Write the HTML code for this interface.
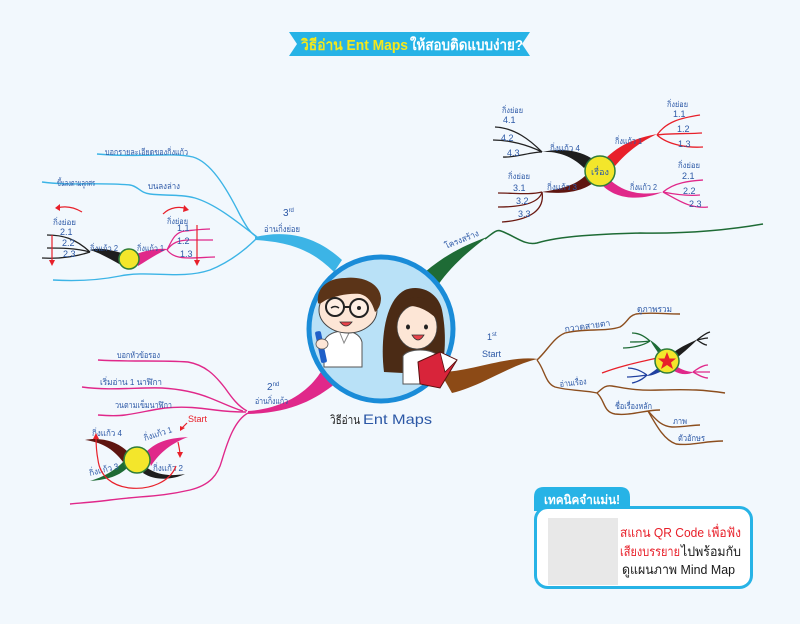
<!DOCTYPE html>
<html><head><meta charset="utf-8">
<style>
html,body{margin:0;padding:0;background:#f2f8fd;}
svg{display:block;}
text{font-family:"Liberation Sans","DejaVu Sans",sans-serif;}
</style></head>
<body>
<svg width="800" height="624" viewBox="0 0 800 624" xmlns="http://www.w3.org/2000/svg">
<rect width="800" height="624" fill="#f2f8fd"/>

<!-- Title banner -->
<polygon points="289,32 530,32 522,44 530,56 289,56 297,44" fill="#27b3e6"/>
<text x="301" y="50" font-size="15" font-weight="bold" fill="#f6e81a" textLength="107" lengthAdjust="spacingAndGlyphs">วิธีอ่าน Ent Maps</text>
<text x="410" y="50" font-size="15" font-weight="bold" fill="#ffffff" textLength="113" lengthAdjust="spacingAndGlyphs">ให้สอบติดแบบง่าย?</text>

<!-- ========== BLUE branch (3rd) ========== -->
<path d="M255,237 C290,229 318,238 342,260 L334,272 C312,250 290,242 255,240 Z" fill="#3cb4e6"/>
<g fill="none" stroke="#3cb4e6" stroke-width="1.4">
<path d="M97,154 C140,158 170,152 193,157 C210,162 225,185 240,215 C246,226 250,233 257,237"/>
<path d="M42,182 C70,186 100,182 130,185 C138,186 140,193 150,194 C165,196 180,194 195,198 C215,204 235,220 257,237"/>
<path d="M257,238 C245,250 230,262 210,270 C180,280 150,270 120,276 C95,281 70,281 53,280"/>
</g>
<g font-size="8.5" fill="#2c58a6" lengthAdjust="spacingAndGlyphs">
<text x="105" y="155" textLength="83" lengthAdjust="spacingAndGlyphs">บอกรายละเอียดของกิ่งแก้ว</text>
<text x="57" y="186" textLength="38" lengthAdjust="spacingAndGlyphs">ขึ้นลงตามลูกศร</text>
<text x="148" y="189" textLength="32" lengthAdjust="spacingAndGlyphs">บนลงล่าง</text>
</g>
<text x="283" y="216" font-size="10" fill="#2c58a6">3<tspan font-size="6" dy="-4">rd</tspan></text>
<text x="264" y="232" font-size="9" fill="#2c58a6" textLength="36" lengthAdjust="spacingAndGlyphs">อ่านกิ่งย่อย</text>

<!-- left mini diagram -->
<g fill="none" stroke-width="1.3">
<path stroke="#222" d="M90,252 C75,238 62,235 47,235"/>
<path stroke="#222" d="M90,252 C75,248 60,248 47,248"/>
<path stroke="#222" d="M90,252 C75,257 60,259 42,258"/>
<path stroke="#e0288a" d="M167,250 C172,240 175,232 185,231 C195,230 203,229 210,229"/>
<path stroke="#e0288a" d="M167,250 C172,243 178,240 190,240 C200,240 206,240 213,240"/>
<path stroke="#e0288a" d="M167,250 C172,256 178,258 190,258 C200,258 208,257 215,257"/>
</g>
<path d="M122,253 C110,250 100,247 90,250 C100,253 110,259 121,265 Z" fill="#1e1e1e"/>
<path d="M136,254 C148,250 158,248 168,249 C158,253 148,260 138,266 Z" fill="#e0288a"/>
<circle cx="129" cy="259" r="10" fill="#f3e62b" stroke="#2f7d3a" stroke-width="1.5"/>
<g font-size="8" fill="#2c58a6">
<text x="53" y="225" textLength="23" lengthAdjust="spacingAndGlyphs">กิ่งย่อย</text>
<text x="60" y="235" font-size="9">2.1</text>
<text x="62" y="246" font-size="9">2.2</text>
<text x="63" y="257" font-size="9">2.3</text>
<text x="90" y="251" textLength="28" lengthAdjust="spacingAndGlyphs">กิ่งแก้ว 2</text>
<text x="137" y="251" textLength="27" lengthAdjust="spacingAndGlyphs">กิ่งแก้ว 1</text>
<text x="167" y="224" textLength="21" lengthAdjust="spacingAndGlyphs">กิ่งย่อย</text>
<text x="177" y="231" font-size="9">1.1</text>
<text x="177" y="244" font-size="9">1.2</text>
<text x="180" y="257" font-size="9">1.3</text>
</g>
<g fill="none" stroke="#e8202a" stroke-width="1.2">
<path d="M82,212 C72,206 64,206 57,208"/>
<path d="M52,235 L52,263"/>
<path d="M163,214 C170,207 180,206 187,209"/>
<path d="M197,225 L197,263"/>
</g>
<g fill="#e8202a">
<polygon points="55,208 60,204 60,211"/>
<polygon points="189,210 184,205 183,212"/>
<polygon points="52,266 49,260 55,260"/>
<polygon points="197,266 194,260 200,260"/>
</g>

<!-- ========== GREEN branch ========== -->
<path d="M425,272 C445,255 465,245 487,237 C470,250 452,265 438,285 Z" fill="#1e6b35"/>
<path d="M485,239 C492,234 496,229 501,231 C515,236 525,246 537,243 C560,236 600,234 640,233 C700,234 740,228 763,224" fill="none" stroke="#1e6b35" stroke-width="1.5"/>
<text x="446" y="249" font-size="8.5" fill="#2c58a6" transform="rotate(-22 446 249)" textLength="36" lengthAdjust="spacingAndGlyphs">โครงสร้าง</text>

<!-- top-right cluster -->
<g fill="none" stroke-width="1.3">
<path stroke="#e8202a" d="M657,135 C666,122 680,118 700,115"/>
<path stroke="#e8202a" d="M657,135 C672,133 688,134 702,133"/>
<path stroke="#e8202a" d="M657,135 C668,145 688,148 703,147"/>
<path stroke="#e0288a" d="M663,192 C675,182 690,181 703,180"/>
<path stroke="#e0288a" d="M663,192 C678,195 690,196 700,195"/>
<path stroke="#e0288a" d="M663,192 C678,200 690,209 708,207"/>
<path stroke="#222" d="M542,152 C530,140 515,128 495,127"/>
<path stroke="#222" d="M542,152 C528,145 510,140 493,140"/>
<path stroke="#222" d="M542,152 C530,152 515,158 503,157"/>
<path stroke="#6b1a12" d="M542,192 C530,195 515,193 498,193"/>
<path stroke="#6b1a12" d="M542,192 C540,200 530,207 498,207"/>
<path stroke="#6b1a12" d="M542,192 C545,210 530,220 502,222"/>
</g>
<path d="M607,157 C620,145 635,138 657,134 C640,142 627,152 615,166 Z" fill="#e8202a"/>
<path d="M608,178 C625,195 645,195 663,192 C645,199 620,202 603,186 Z" fill="#e0288a"/>
<path d="M591,158 C578,150 560,148 542,152 C560,151 574,158 584,168 Z" fill="#1e1e1e"/>
<path d="M593,183 C580,193 560,194 542,192 C560,189 575,186 586,175 Z" fill="#5e1510"/>
<circle cx="600" cy="171" r="15" fill="#f3e62b" stroke="#2f7d3a" stroke-width="1.5"/>
<text x="591" y="175" font-size="9" fill="#2c58a6" textLength="18" lengthAdjust="spacingAndGlyphs">เรื่อง</text>
<g font-size="9" fill="#2c58a6">
<text x="667" y="107" font-size="8" textLength="21" lengthAdjust="spacingAndGlyphs">กิ่งย่อย</text>
<text x="673" y="117">1.1</text>
<text x="677" y="132">1.2</text>
<text x="678" y="147">1.3</text>
<text x="615" y="144" font-size="8.5" textLength="27" lengthAdjust="spacingAndGlyphs">กิ่งแก้ว 1</text>
<text x="678" y="168" font-size="8" textLength="22" lengthAdjust="spacingAndGlyphs">กิ่งย่อย</text>
<text x="682" y="179">2.1</text>
<text x="683" y="194">2.2</text>
<text x="689" y="207">2.3</text>
<text x="630" y="190" font-size="8.5" textLength="27" lengthAdjust="spacingAndGlyphs">กิ่งแก้ว 2</text>
<text x="502" y="113" font-size="8" textLength="21" lengthAdjust="spacingAndGlyphs">กิ่งย่อย</text>
<text x="503" y="123">4.1</text>
<text x="501" y="141">4.2</text>
<text x="507" y="156">4.3</text>
<text x="550" y="151" font-size="8.5" textLength="30" lengthAdjust="spacingAndGlyphs">กิ่งแก้ว 4</text>
<text x="508" y="179" font-size="8" textLength="22" lengthAdjust="spacingAndGlyphs">กิ่งย่อย</text>
<text x="513" y="191">3.1</text>
<text x="516" y="204">3.2</text>
<text x="518" y="217">3.3</text>
<text x="547" y="190" font-size="8.5" textLength="30" lengthAdjust="spacingAndGlyphs">กิ่งแก้ว 3</text>
</g>

<!-- ========== PINK branch (2nd) ========== -->
<path d="M248,411 C280,409 308,394 322,370 L336,383 C315,400 290,413 248,414 Z" fill="#e0288a"/>
<g fill="none" stroke="#e0288a" stroke-width="1.4">
<path d="M98,360 C130,362 160,360 188,362 C205,365 215,375 225,388 C232,398 238,406 247,411"/>
<path d="M82,387 C110,391 140,387 162,388 C180,389 195,392 210,398 C225,404 235,409 243,411"/>
<path d="M98,415 C110,416 118,416 125,415 C140,413 150,410 165,408 C185,406 200,408 215,410 C230,412 240,412 246,412"/>
<path d="M248,413 C235,420 228,440 222,460 C218,475 210,485 190,490 C160,497 140,496 110,500 C95,502 80,503 70,504"/>
</g>
<g font-size="8.5" fill="#2c58a6">
<text x="117" y="358" textLength="43" lengthAdjust="spacingAndGlyphs">บอกหัวข้อรอง</text>
<text x="100" y="385" textLength="62" lengthAdjust="spacingAndGlyphs">เริ่มอ่าน 1 นาฬิกา</text>
<text x="115" y="408" textLength="57" lengthAdjust="spacingAndGlyphs">วนตามเข็มนาฬิกา</text>
</g>
<text x="267" y="390" font-size="10" fill="#2c58a6">2<tspan font-size="6" dy="-4">nd</tspan></text>
<text x="255" y="404" font-size="9" fill="#2c58a6" textLength="33" lengthAdjust="spacingAndGlyphs">อ่านกิ่งแก้ว</text>

<!-- bottom-left mini diagram -->
<path d="M129,453 C118,441 100,437 85,440 C100,442 113,448 123,462 Z" fill="#5e1510"/>
<path d="M146,452 C158,440 172,438 188,437 C172,443 160,452 151,466 Z" fill="#e0288a"/>
<path d="M128,467 C118,478 102,480 90,481 C103,477 115,471 125,460 Z" fill="#1e6b35"/>
<path d="M146,467 C158,476 172,476 185,474 C172,480 155,481 143,473 Z" fill="#1e1e1e"/>
<circle cx="137" cy="460" r="13" fill="#f3e62b" stroke="#2f7d3a" stroke-width="1.5"/>
<g font-size="8.5" fill="#2c58a6">
<text x="92" y="436" textLength="30" lengthAdjust="spacingAndGlyphs">กิ่งแก้ว 4</text>
<text x="145" y="441" transform="rotate(-18 145 441)" textLength="29" lengthAdjust="spacingAndGlyphs">กิ่งแก้ว 1</text>
<text x="90" y="476" transform="rotate(-14 90 476)" textLength="30" lengthAdjust="spacingAndGlyphs">กิ่งแก้ว 3</text>
<text x="153" y="471" textLength="30" lengthAdjust="spacingAndGlyphs">กิ่งแก้ว 2</text>
</g>
<text x="188" y="422" font-size="9" fill="#e8202a">Start</text>
<g fill="none" stroke="#e8202a" stroke-width="1.2">
<path d="M187,423 L181,429"/>
<path d="M178,442 C179,447 180,451 180,455"/>
<path d="M176,466 C170,482 150,490 130,488 C112,486 100,476 98,460 C96,450 96,442 96,436"/>
</g>
<g fill="#e8202a">
<polygon points="180,431 180,426 185,428"/>
<polygon points="180,458 177,452 183,452"/>
<polygon points="96,433 93,439 99,439"/>
</g>

<!-- ========== BROWN branch (1st) ========== -->
<path d="M440,372 C470,372 508,355 538,359 C512,364 482,386 452,393 Z" fill="#8c4a16"/>
<g fill="none" stroke="#8c4e1e" stroke-width="1.4">
<path d="M537,360 C548,350 553,338 565,333 C585,328 605,332 620,327 C628,322 628,316 636,314 C650,312 665,314 680,314"/>
<path d="M537,360 C545,370 545,383 555,387 C570,391 585,390 597,393"/>
<path d="M597,393 C603,388 605,385 612,386 C625,388 635,391 660,390 C690,389 705,390 725,393"/>
<path d="M597,393 C605,400 603,412 615,414 C630,416 645,410 660,410"/>
<path d="M648,411 C655,418 660,426 672,427 C685,427 692,425 700,425"/>
<path d="M648,411 C656,425 664,440 676,444 C690,446 705,441 723,441"/>
</g>
<text x="487" y="340" font-size="9" fill="#2c58a6">1<tspan font-size="6" dy="-4">st</tspan></text>
<text x="482" y="357" font-size="9" fill="#2c58a6">Start</text>
<g font-size="8.5" fill="#2c58a6">
<text x="565" y="332" transform="rotate(-8 565 332)" textLength="46" lengthAdjust="spacingAndGlyphs">กวาดสายตา</text>
<text x="637" y="312" textLength="35" lengthAdjust="spacingAndGlyphs">ดูภาพรวม</text>
<text x="560" y="387" transform="rotate(-6 560 387)" textLength="27" lengthAdjust="spacingAndGlyphs">อ่านเรื่อง</text>
<text x="615" y="409" textLength="37" lengthAdjust="spacingAndGlyphs">ชื่อเรื่องหลัก</text>
<text x="673" y="424" textLength="14" lengthAdjust="spacingAndGlyphs">ภาพ</text>
<text x="678" y="441" textLength="27" lengthAdjust="spacingAndGlyphs">ตัวอักษร</text>
</g>

<!-- star mini diagram -->
<g fill="none" stroke-width="1.3">
<path stroke="#1e6b35" d="M650,341 C643,335 638,333 632,333"/>
<path stroke="#1e6b35" d="M650,341 C643,342 636,342 630,342"/>
<path stroke="#1e6b35" d="M650,341 C643,346 630,348 623,348"/>
<path stroke="#1e1e1e" d="M697,340 C702,336 706,333 710,332"/>
<path stroke="#1e1e1e" d="M697,340 C702,339 705,338 708,338"/>
<path stroke="#1e1e1e" d="M697,340 C702,343 704,345 707,345"/>
<path stroke="#e0288a" d="M693,372 C700,367 704,365 708,365"/>
<path stroke="#e0288a" d="M693,372 C700,372 705,372 710,372"/>
<path stroke="#e0288a" d="M693,372 C700,376 704,378 708,378"/>
<path stroke="#2040a0" d="M647,375 C640,370 634,368 628,368"/>
<path stroke="#2040a0" d="M647,375 C640,376 633,377 627,377"/>
<path stroke="#2040a0" d="M647,375 C642,380 637,382 632,383"/>
<path stroke="#e8202a" d="M657,358 C640,362 620,366 602,373"/>
</g>
<path d="M659,354 C655,348 652,344 650,340 C655,343 660,348 663,352 Z" fill="#1e6b35"/>
<path d="M674,352 C682,346 690,343 698,339 C692,345 684,352 678,357 Z" fill="#1e1e1e"/>
<path d="M676,366 C682,370 688,372 694,372 C688,375 681,375 674,371 Z" fill="#e0288a"/>
<path d="M659,367 C654,371 650,374 646,376 C651,376 656,374 662,371 Z" fill="#2040a0"/>
<circle cx="667" cy="361" r="12" fill="#f3e62b" stroke="#2f7d3a" stroke-width="1.5"/>
<polygon points="667,352 669.5,358.5 676,358.5 671,362.5 673,369 667,365 661,369 663,362.5 658,358.5 664.5,358.5" fill="#e8202a"/>

<!-- ========== Central circle ========== -->
<circle cx="381" cy="329" r="72" fill="#b9e1f7" stroke="#1a8cd8" stroke-width="5"/>
<!-- boy -->
<path d="M324,367 L324,342 C326,334 336,331 344,331 C352,331 360,334 362,342 L362,367 Z" fill="#ffffff" stroke="#555" stroke-width="1"/>
<path d="M340,333 L344,343 L349,333" fill="none" stroke="#888" stroke-width="1"/>
<rect x="318" y="331" width="6" height="32" rx="2" fill="#1f5fc8" transform="rotate(-12 321 347)"/>
<ellipse cx="322" cy="344" rx="6" ry="5" fill="#fde6d6" stroke="#555" stroke-width="0.8"/>
<ellipse cx="348" cy="310" rx="29" ry="23" fill="#fde6d6" stroke="#444" stroke-width="1"/>
<path d="M318,303 C316,288 328,278 345,278 C362,276 380,283 381,298 C381,305 378,310 375,312 C372,302 368,296 360,294 C348,293 336,296 326,300 C322,302 320,305 318,303 Z" fill="#5b3418"/>
<circle cx="335" cy="307" r="9" fill="#ffffff" fill-opacity="0.35" stroke="#222" stroke-width="2"/>
<circle cx="359" cy="308" r="9" fill="#ffffff" fill-opacity="0.35" stroke="#222" stroke-width="2"/>
<line x1="344" y1="307" x2="350" y2="307" stroke="#222" stroke-width="2"/>
<circle cx="359" cy="308" r="2" fill="#222"/>
<path d="M331,308 Q335,305 339,308" fill="none" stroke="#222" stroke-width="1.5"/>
<path d="M340,322 Q346,330 352,322 Z" fill="#e8424a" stroke="#333" stroke-width="0.8"/>
<!-- girl -->
<path d="M384,372 C380,340 385,300 405,290 C420,284 438,292 442,310 C447,335 445,360 440,375 Z" fill="#4b2b15"/>
<path d="M403,384 L403,356 C408,348 432,348 438,356 L438,384 Z" fill="#ffffff" stroke="#555" stroke-width="1"/>
<ellipse cx="417" cy="327" rx="20" ry="22" fill="#fde6d6" stroke="#444" stroke-width="0.8"/>
<path d="M396,318 C398,300 410,296 422,298 C432,300 438,308 438,320 C430,312 420,306 410,306 C402,308 398,314 396,318 Z" fill="#4b2b15"/>
<ellipse cx="408" cy="327" rx="2" ry="2.5" fill="#222"/>
<ellipse cx="426" cy="327" rx="2" ry="2.5" fill="#222"/>
<path d="M412,335 Q418,345 424,335 Z" fill="#e8424a" stroke="#333" stroke-width="0.8"/>
<polygon points="418,362 440,352 457,360 440,388 420,384" fill="#d8243a" stroke="#5a1010" stroke-width="1"/>
<polygon points="440,352 457,360 445,372" fill="#ffffff" stroke="#5a1010" stroke-width="0.8"/>
<text x="330" y="424" font-size="12" fill="#1a1a1a" textLength="30" lengthAdjust="spacingAndGlyphs">วิธีอ่าน</text>
<text x="363" y="424" font-size="14" fill="#2c58a6" textLength="69" lengthAdjust="spacingAndGlyphs">Ent Maps</text>

<!-- ========== Tip box ========== -->
<path d="M534,511 L534,497 Q534,487 544,487 L620,487 Q630,487 630,497 L630,511 Z" fill="#27b3e6"/>
<rect x="535.5" y="507.5" width="216" height="80" rx="12" fill="#ffffff" stroke="#27b3e6" stroke-width="3"/>
<rect x="534" y="497" width="96" height="12" fill="#27b3e6"/>
<text x="544" y="504" font-size="12.5" font-weight="bold" fill="#ffffff" textLength="76" lengthAdjust="spacingAndGlyphs">เทคนิคจำแม่น!</text>
<rect x="548" y="518" width="70" height="67" fill="#e8e8e8"/>
<text x="620" y="537" font-size="13" fill="#e8202a" textLength="121" lengthAdjust="spacingAndGlyphs">สแกน QR Code เพื่อฟัง</text>
<text x="620" y="556" font-size="13" fill="#e8202a" textLength="60" lengthAdjust="spacingAndGlyphs">เสียงบรรยาย</text>
<text x="681" y="556" font-size="13" fill="#1a1a1a" textLength="60" lengthAdjust="spacingAndGlyphs">ไปพร้อมกับ</text>
<text x="622" y="574" font-size="13" fill="#1a1a1a" textLength="113" lengthAdjust="spacingAndGlyphs">ดูแผนภาพ Mind Map</text>
</svg>
</body></html>
